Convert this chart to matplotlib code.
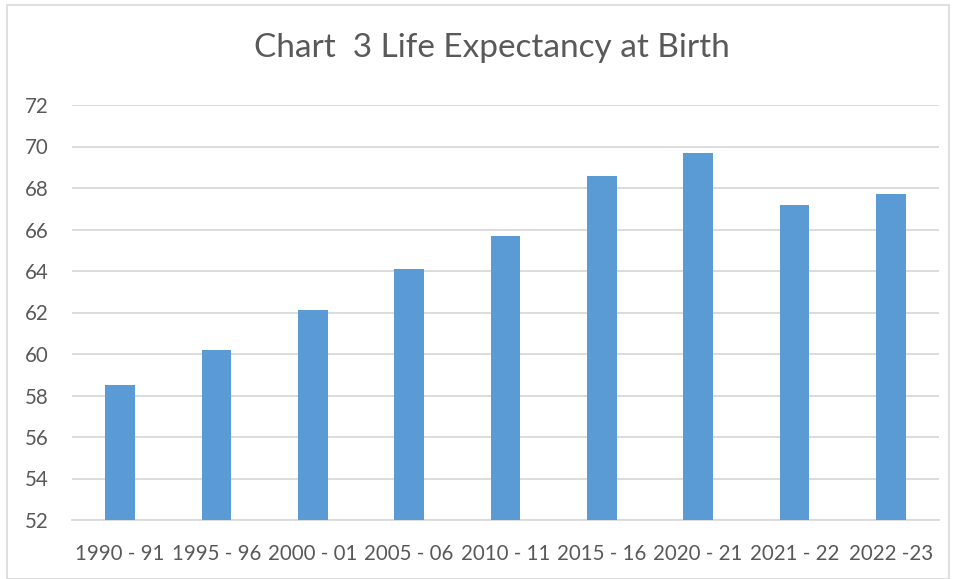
import matplotlib
matplotlib.use("Agg")
import matplotlib.pyplot as plt
from matplotlib.patches import Rectangle

# ---------- data ----------
periods = ["1990 - 91", "1995 - 96", "2000 - 01", "2005 - 06", "2010 - 11",
           "2015 - 16", "2020 - 21", "2021 - 22", "2022 -23"]
life_exp = [58.5, 60.2, 62.1, 64.1, 65.7, 68.6, 69.7, 67.2, 67.7]
yticks = list(range(52, 73, 2))

BAR = "#5b9bd5"
TXT = "#595959"
GRID = "#d9d9d9"

plt.rcParams['font.family'] = ['Lato', 'DejaVu Sans']

fig = plt.figure(figsize=(9.56, 5.79), dpi=100)
ax = fig.add_axes([72/956, 1-520/579, (939-72)/956, (520-105)/579])

x = range(len(periods))
ax.bar(x, life_exp, width=0.31, color=BAR, zorder=3)

ax.set_xlim(-0.5, len(periods)-0.5)
ax.set_ylim(52, 72)
ax.set_yticks(yticks)
ax.set_xticks(list(x))
ax.set_xticklabels(periods)
ax.grid(True, axis='y', color=GRID, lw=1.3, zorder=0)
for s in ['top', 'right', 'left']: ax.spines[s].set_visible(False)
ax.spines['bottom'].set_color(GRID); ax.spines['bottom'].set_linewidth(1.3)
ax.tick_params(axis='both', length=0, labelcolor=TXT, labelsize=14.8)
ax.tick_params(axis='y', pad=16.5)
ax.tick_params(axis='x', pad=17)

fig.text(492/956, 1-48/579, "Chart  3 Life Expectancy at Birth",
         ha='center', va='center', fontsize=24, color=TXT)

# chart-area border
fig.add_artist(Rectangle((7/956, 0), 1-14/956, 1-5/579, transform=fig.transFigure,
                         fill=False, edgecolor=GRID, lw=1.2))

fig.savefig("out.png", dpi=100)
